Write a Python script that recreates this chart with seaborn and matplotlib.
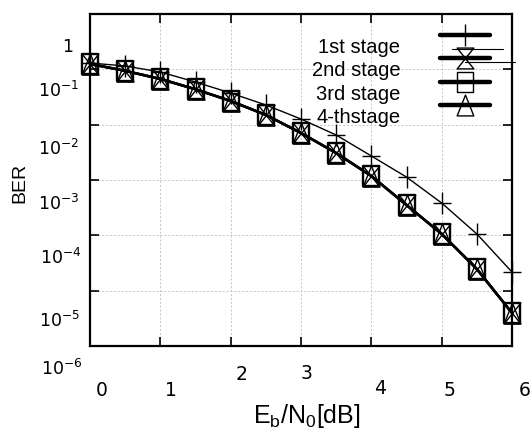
import matplotlib
matplotlib.use("Agg")
import matplotlib.pyplot as plt
from matplotlib.path import Path
from matplotlib.lines import Line2D
from matplotlib.ticker import FixedLocator, NullLocator
from matplotlib.transforms import ScaledTranslation
import seaborn as sns

# --- Data ---
snr_db = [0, 0.5, 1, 1.5, 2, 2.5, 3, 3.5, 4, 4.5, 5, 5.5, 6]
ber_stage1 = [0.130, 0.115, 0.0895, 0.059, 0.0373, 0.0227, 0.01265, 0.0065,
              0.00272, 0.00113, 3.84e-4, 1.06e-4, 2.17e-5]
ber_stage2 = [0.125, 0.094, 0.067, 0.0436, 0.0268, 0.0150, 0.00707, 0.00307,
              0.00118, 3.53e-4, 1.06e-4, 2.46e-5, 3.95e-6]
ber_stage3 = [0.125, 0.094, 0.067, 0.0436, 0.0268, 0.0150, 0.00707, 0.00307,
              0.00118, 3.53e-4, 1.06e-4, 2.46e-5, 3.95e-6]
ber_stage4 = [0.125, 0.094, 0.067, 0.0436, 0.0268, 0.0150, 0.00707, 0.00307,
              0.00118, 3.53e-4, 1.06e-4, 2.46e-5, 3.95e-6]
stage_names = ["1st stage", "2nd stage", "3rd stage", "4-thstage"]

x_ticks = [0, 1, 2, 3, 4, 5, 6]
x_tick_labels = ["0", "1", "2", "3", "4", "5", "6"]
y_ticks = [1e-6, 1e-5, 1e-4, 1e-3, 1e-2, 1e-1, 1]
y_tick_labels = [r"$\mathregular{10^{-6}}$", r"$\mathregular{10^{-5}}$",
                 r"$\mathregular{10^{-4}}$", r"$\mathregular{10^{-3}}$",
                 r"$\mathregular{10^{-2}}$", r"$\mathregular{10^{-1}}$", "1"]

# --- Marker shapes (slightly taller than wide, like the original) ---
W = 0.8
plus_m = Path([(-W, 0), (W, 0), (0, -1), (0, 1)],
              [Path.MOVETO, Path.LINETO, Path.MOVETO, Path.LINETO])
hourglass_m = Path([(-W, 1), (W, 1), (-W, -1), (W, -1), (-W, 1)],
                   [Path.MOVETO, Path.LINETO, Path.LINETO, Path.LINETO, Path.CLOSEPOLY])
square_m = Path([(-W, -1), (W, -1), (W, 1), (-W, 1), (-W, -1)],
                [Path.MOVETO, Path.LINETO, Path.LINETO, Path.LINETO, Path.CLOSEPOLY])
triangle_m = Path([(0, 1), (W, -1), (-W, -1), (0, 1)],
                  [Path.MOVETO, Path.LINETO, Path.LINETO, Path.CLOSEPOLY])

sns.set_style("ticks")
plt.rcParams['font.family'] = ['Liberation Sans', 'DejaVu Sans']
plt.rcParams['text.color'] = 'k'
plt.rcParams['axes.labelcolor'] = 'k'

fig = plt.figure(figsize=(5.31, 4.32), dpi=100)
ax = fig.add_axes([90 / 531, 86 / 432, 422 / 531, 332 / 432])

series = [
    (ber_stage1, plus_m, 16, 1.0, 1.0),
    (ber_stage2, hourglass_m, 15, 1.8, 1.0),
    (ber_stage3, square_m, 15, 1.8, 1.7),
    (ber_stage4, triangle_m, 15, 1.8, 1.0),
]
for ber, mk, ms, lw, mew in series:
    sns.lineplot(x=snr_db, y=ber, ax=ax, color="k", lw=lw, marker=mk,
                 markersize=ms, markerfacecolor="none", markeredgecolor="k",
                 markeredgewidth=mew, clip_on=False, legend=False)

ax.set_yscale("log")
ax.set_xlim(0, 6)
ax.set_ylim(1e-6, 1)

ax.xaxis.set_major_locator(FixedLocator(x_ticks))
ax.yaxis.set_major_locator(FixedLocator(y_ticks))
ax.yaxis.set_minor_locator(NullLocator())
ax.set_xticklabels(x_tick_labels, fontfamily="DejaVu Sans", fontsize=13.5)
ax.set_yticklabels(y_tick_labels, fontfamily="DejaVu Sans", fontsize=12.5)

ax.tick_params(which="both", direction="in", length=6.5, width=1.2,
               top=True, right=True, colors="k", labelcolor="k")
ax.tick_params(axis="x", pad=25)
ax.tick_params(axis="y", pad=8)
ax.grid(True, color="#c4c4c4", linestyle=(0, (2, 2)), lw=0.7)
for sp in ax.spines.values():
    sp.set_linewidth(1.6)
    sp.set_color("k")

# tick labels sit off their ticks in the original
x_off = [(12, 0), (11, 0), (11, -16), (6, -17), (9, -2), (8, 0), (13, 0)]
y_off = [(4, 21), (1, 28), (3, 21), (0, 22), (0, 22), (0, 20), (-6, 31)]
for lab, (dx, dy) in zip(ax.get_xticklabels(), x_off):
    lab.set_transform(lab.get_transform() + ScaledTranslation(dx / 100, -dy / 100, fig.dpi_scale_trans))
for lab, (dx, dy) in zip(ax.get_yticklabels(), y_off):
    lab.set_transform(lab.get_transform() + ScaledTranslation(dx / 100, -dy / 100, fig.dpi_scale_trans))

ax.set_xlabel(r"$\mathregular{E_b/N_0[dB]}$", fontsize=18, family="Liberation Sans", color="k")
ax.xaxis.set_label_coords((307 - 90) / 422, (346 - 402) / 332)
ax.set_ylabel("BER", fontsize=14, family="Liberation Sans", color="k")
ax.yaxis.set_label_coords((28 - 90) / 422, (346 - 183) / 332)

# --- Legend: labels left, thick handle lines right ---
handles = []
for mk, ms, mew in [(plus_m, 16, 1.0), (hourglass_m, 15, 1.0), (square_m, 15, 1.0), (triangle_m, 15, 1.0)]:
    handles.append(Line2D([], [], color="k", lw=3.2, marker=mk, markersize=ms,
                          markerfacecolor="none", markeredgecolor="k", markeredgewidth=mew))
leg = ax.legend(handles, stage_names, loc="upper right",
                bbox_to_anchor=((490 - 90) / 422, (346 - 27) / 332),
                frameon=False, markerfirst=False, handlelength=2.5,
                handletextpad=1.95, labelspacing=0.22, borderaxespad=0,
                borderpad=0, numpoints=1,
                prop={"family": "Liberation Sans", "size": 14.5})
for t in leg.get_texts():
    t.set_position((0, -11))
    t.set_color("k")

# two stray thin strokes near the legend symbols in the original
for (x0, x1, y) in [(452, 503, 49), (465, 515, 62)]:
    ax.add_line(Line2D([(x0 - 90) / 422, (x1 - 90) / 422],
                       [(346 - y) / 332, (346 - y) / 332],
                       transform=ax.transAxes, color="k", lw=0.8, clip_on=False))

fig.savefig("out.png", dpi=100)
